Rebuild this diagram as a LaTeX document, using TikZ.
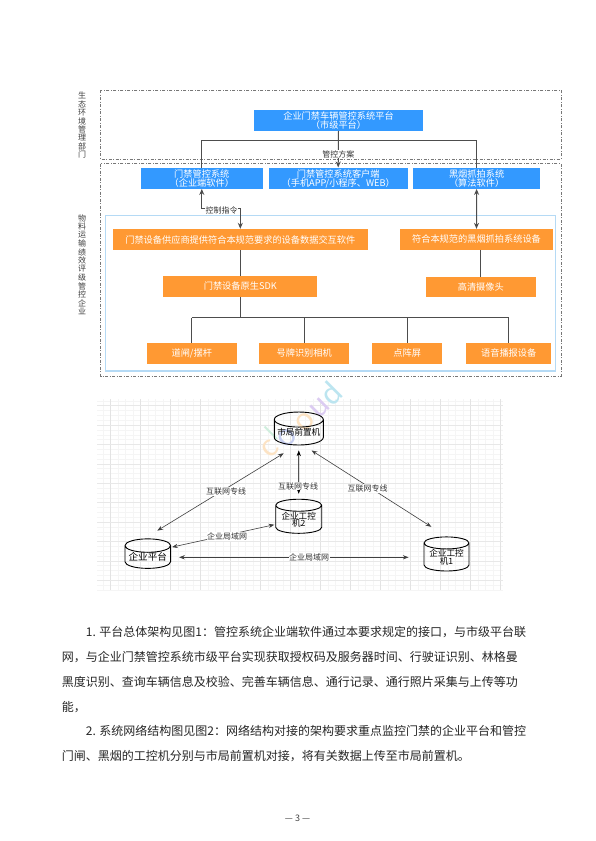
\documentclass[tikz,border=0pt]{standalone}
\usepackage{fontspec}
\setmainfont{Noto Sans CJK SC}
\newfontfamily\markfont{Lato}
\usetikzlibrary{shapes.geometric,arrows.meta}

\definecolor{bluebox}{HTML}{3399FF}
\definecolor{orangebox}{HTML}{FF9933}
\definecolor{framecol}{HTML}{B5DAF5}
\definecolor{linecol}{HTML}{4D4D4D}
\definecolor{dashcol}{HTML}{777777}
\definecolor{markorange}{HTML}{FCE3C4}
\definecolor{markgreen}{HTML}{CFEEDD}
\definecolor{markblue}{HTML}{C6CEF0}
\definecolor{markpurple}{HTML}{DCCCF2}
\definecolor{markteal}{HTML}{BCE5F0}

\tikzset{
    bluenode/.style={fill=bluebox, text=white, inner sep=0pt, text depth=0pt, font={\fontsize{9.2pt}{9.2pt}\selectfont\lineskiplimit -6pt\relax}, align=center},
    orangenode/.style={fill=orangebox, text=white, inner sep=0pt, font=\fontsize{9.2pt}{9.2pt}\selectfont, align=center},
    dashframe/.style={draw=dashcol, line width=0.7pt, dash pattern=on 3pt off 1.5pt on 1pt off 1.5pt},
    conn/.style={draw=linecol, line width=1pt},
    dbnode/.style={cylinder, shape border rotate=90, aspect=0.35, draw=black, line width=0.9pt, inner sep=0pt, align=center, font={\fontsize{8.6pt}{7.6pt}\selectfont\lineskiplimit -6pt\relax}},
    netlabel/.style={fill=white, inner sep=0.5pt, text=black!80, font=\fontsize{8pt}{9pt}\selectfont},
    sidelabel/.style={text=black!75, inner sep=0pt, font=\fontsize{8pt}{9pt}\selectfont},
    marknode/.style={rotate=45, inner sep=0pt, font=\markfont\fontsize{31pt}{33pt}\selectfont},
    bodyline/.style={anchor=base west, inner sep=0pt, text=black!85, font=\fontsize{12pt}{14pt}\selectfont},
    headboth/.style={{Stealth[length=6pt, width=5pt]}-{Stealth[length=6pt, width=5pt]}},
}

\begin{document}
\begin{tikzpicture}[x=1pt, y=-1pt]
    \useasboundingbox (0, 0) rectangle (595, 841);
    \fill[white] (0, 0) rectangle (595, 841);

    % Frames of the upper figure
    \draw[dashframe] (100.7, 90) rectangle (561, 159);
    \draw[dashframe] (100.7, 163.5) rectangle (561, 376);
    \draw[framecol, line width=1.2pt] (105.7, 215.7) rectangle (555.7, 371);

    % Side labels
    \foreach \ch [count=\i from 0] in {生,态,环,境,管,理,部,门}
        \node[sidelabel] (top\i) at (82, {95.7+8.45*\i}) {\ch};
    \foreach \ch [count=\i from 0] in {物,料,运,输,绩,效,评,级,管,控,企,业}
        \node[sidelabel] (low\i) at (82, {218+8.5*\i}) {\ch};

    % Blue boxes
    \node[bluenode, minimum width=169.6pt, minimum height=20.7pt] (platform) at (338.5, 120.3) {企业门禁车辆管控系统平台\\（市级平台）};
    \node[bluenode, minimum width=121.7pt, minimum height=21pt] (gatesys) at (201.8, 178.2) {门禁管控系统\\（企业端软件）};
    \node[bluenode, minimum width=139pt, minimum height=21pt] (client) at (338.2, 178.2) {门禁管控系统客户端\\（手机APP/小程序、WEB）};
    \node[bluenode, minimum width=127.3pt, minimum height=21pt] (smoke) at (476.6, 178.2) {黑烟抓拍系统\\（算法软件）};

    % Orange boxes
    \node[orangenode, minimum width=254.7pt, minimum height=21pt] (supplier) at (240.3, 239.5) {门禁设备供应商提供符合本规范要求的设备数据交互软件};
    \node[orangenode, minimum width=153.6pt, minimum height=20.7pt] (comply) at (476.5, 239.4) {符合本规范的黑烟抓拍系统设备};
    \node[orangenode, minimum width=154pt, minimum height=21pt] (sdk) at (240.3, 286.2) {门禁设备原生SDK};
    \node[orangenode, minimum width=109.7pt, minimum height=20.3pt] (camera) at (480.8, 287.2) {高清摄像头};
    \node[orangenode, minimum width=89.7pt, minimum height=20.7pt] (barrier) at (191.8, 353.3) {道闸/摆杆};
    \node[orangenode, minimum width=89.7pt, minimum height=20.7pt] (plate) at (304.2, 353.3) {号牌识别相机};
    \node[orangenode, minimum width=70.3pt, minimum height=20.7pt] (matrix) at (407.2, 353.3) {点阵屏};
    \node[orangenode, minimum width=84.7pt, minimum height=20.7pt] (voice) at (508.7, 353.2) {语音播报设备};

    % Connectors of the upper figure
    \coordinate (busleft) at (gatesys.north |- 0, 140.7);
    \coordinate (busright) at (smoke.north |- 0, 140.7);
    \draw[conn] (gatesys.north) -- (busleft) -- (busright) -- (smoke.north);
    \draw[conn, -{Stealth[length=6pt, width=5pt]}] (platform.south) -- (client.north);
    \node[netlabel] (planlabel) at (338.3, 154) {管控方案};

    \coordinate (cmdleft) at (gatesys.south |- 0, 208);
    \coordinate (cmdright) at (supplier.north |- 0, 208);
    \draw[conn, headboth] (gatesys.south) -- (cmdleft) -- (cmdright) -- (supplier.north);
    \node[netlabel, inner ysep=0pt] (cmdlabel) at (221.5, 210) {控制指令};
    \draw[conn, headboth] (smoke.south) -- (comply.north);

    \draw[conn] (supplier.south) -- (sdk.north);
    \draw[conn] (comply.south -| camera.north) -- (camera.north);
    \coordinate (fork) at (sdk.south |- 0, 317.7);
    \draw[conn] (sdk.south) -- (fork);
    \draw[conn] (barrier.north |- fork) -- (voice.north |- fork);
    \foreach \dev in {barrier, plate, matrix, voice}
        \draw[conn] (\dev.north |- fork) -- (\dev.north);

    % Grid of the lower figure
    \foreach \gx in {102.8,110.3,...,503}
        \draw[black!4, line width=0.5pt] (\gx, 399) -- (\gx, 590);
    \foreach \gy in {400.8,405.65,...,590}
        \draw[black!4, line width=0.5pt] (97, \gy) -- (503, \gy);
    \foreach \gx in {110.3,140.3,...,503}
        \draw[black!11, line width=0.6pt] (\gx, 399) -- (\gx, 590);
    \foreach \gy in {405.6,425,...,590}
        \draw[black!9, line width=0.6pt] (97, \gy) -- (503, \gy);

    % Watermark
    \node[marknode, text=markorange] (markc) at (270, 449) {c};
    \node[marknode, text=markgreen, font=\markfont\fontsize{24pt}{26pt}\selectfont] (markl) at (271, 433) {l};
    \node[marknode, text=markblue] (marko) at (287, 438) {o};
    \node[marknode, text=markorange] (markoo) at (305, 422) {o};
    \node[marknode, text=markpurple] (marku) at (320, 408) {u};
    \node[marknode, text=markteal] (markd) at (331, 393) {d};

    % Servers
    \node[dbnode, minimum width=49pt, minimum height=33pt] (front) at (298.8, 432.5) {市局前置机};
    \node[dbnode, minimum width=46pt, minimum height=27.7pt] (ipc2) at (298.7, 519.5) {企业工控\\机2};
    \node[dbnode, minimum width=45.7pt, minimum height=27.7pt, font=\fontsize{9.6pt}{10pt}\selectfont] (entplat) at (147.8, 557.2) {企业平台};
    \node[dbnode, minimum width=45pt, minimum height=27.7pt] (ipc1) at (446.5, 557.2) {企业工控\\机1};

    % Network links
    \draw[<->, >=Stealth, black!75, line width=0.6pt, shorten <=15pt, shorten >=15pt] (entplat.100) -- (front.260);
    \draw[<->, >=Stealth, black!75, line width=0.6pt, shorten <=9.6pt, shorten >=18pt] (front.290) -- (ipc1.north);
    \draw[<->, >=Stealth, black, line width=0.6pt, shorten <=5pt, shorten >=5pt] (front.south) -- (ipc2.north);
    \draw[<->, >=Stealth, black!75, line width=0.6pt, shorten <=1pt, shorten >=1pt] (entplat.23) -- (ipc2.192);
    \draw[<->, >=Stealth, black!75, line width=0.6pt, shorten <=8pt, shorten >=15pt] (entplat.east |- 0, 557.3) -- (ipc1.west |- 0, 557.3);

    \node[netlabel] (netleft) at (226, 491.3) {互联网专线};
    \node[netlabel] (netmid) at (298, 486) {互联网专线};
    \node[netlabel] (netright) at (367.7, 488.7) {互联网专线};
    \node[netlabel] (lanleft) at (227, 536.3) {企业局域网};
    \node[netlabel] (lanmid) at (309, 557) {企业局域网};

    % Body text
    \node[bodyline] (line1) at (85.7, 636) {1. 平台总体架构见图1：管控系统企业端软件通过本要求规定的接口，与市级平台联};
    \node[bodyline] (line2) at (61.7, 661) {网，与企业门禁管控系统市级平台实现获取授权码及服务器时间、行驶证识别、林格曼};
    \node[bodyline] (line3) at (61.7, 686) {黑度识别、查询车辆信息及校验、完善车辆信息、通行记录、通行照片采集与上传等功};
    \node[bodyline] (line4) at (61.7, 711) {能，};
    \node[bodyline] (line5) at (85.7, 735.5) {2. 系统网络结构图见图2：网络结构对接的架构要求重点监控门禁的企业平台和管控};
    \node[bodyline] (line6) at (61.7, 760.5) {门闸、黑烟的工控机分别与市局前置机对接，将有关数据上传至市局前置机。};

    \node[text=black!75, inner sep=0pt, font=\fontsize{9pt}{10pt}\selectfont] (pagenum) at (297.5, 818) {— 3 —};
\end{tikzpicture}
\end{document}
